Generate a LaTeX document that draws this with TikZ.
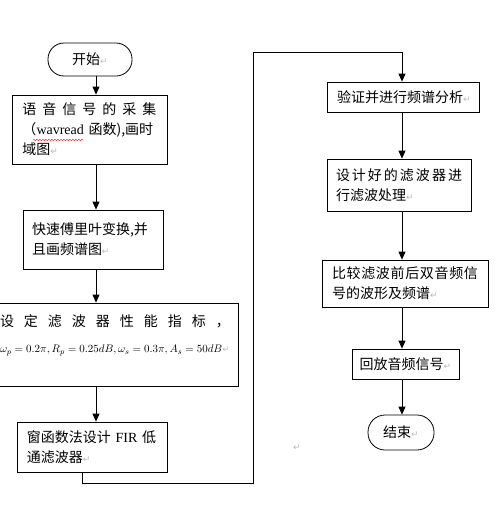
\documentclass[tikz,border=0pt]{standalone}
\usepackage{fontspec}
\setmainfont{Noto Sans CJK SC}
\newfontfamily\lat{Liberation Serif}
\newfontfamily\retfont{DejaVu Sans}
\usetikzlibrary{arrows.meta,decorations.pathmorphing}

\newcommand{\ret}{{\retfont\color{gray!55}\fontsize{9}{9}\selectfont ↵}}

\begin{document}
\begin{tikzpicture}[x=1pt,y=-1pt,
    every node/.style={font=\fontsize{14}{20}\selectfont},
    proc/.style={draw, rectangle, line width=0.8pt, inner sep=0pt, align=left},
    term/.style={draw, rectangle, line width=0.8pt, inner sep=0pt},
    flow/.style={line width=0.8pt, -{Triangle[length=8pt,width=7pt]}}]
    \clip (0,0) rectangle (501,517);

    % Left column
    \node[term, rounded corners=16pt, minimum width=84pt, minimum height=33pt] (start) at (90,59.5) {开始\ret};
    \node[proc, minimum width=155pt, minimum height=69pt, text width=134pt] (sample) at (89.5,129.5)
        {\makebox[134pt][s]{语\hfill 音\hfill 信\hfill 号\hfill 的\hfill 采\hfill 集}\\（{\lat wavread} 函数),画时\\域图\ret};
    \node[proc, minimum width=140pt, minimum height=59pt, text width=122pt] (fft) at (93,239.5)
        {快速傅里叶变换,并\\且画频谱图\ret};
    \node[proc, minimum width=246pt, minimum height=83pt, text width=230pt] (spec) at (115,344.5)
        {\makebox[230pt][s]{设\hfill 定\hfill 滤\hfill 波\hfill 器\hfill 性\hfill 能\hfill 指\hfill 标\hfill ，}\\[6pt]
         \mbox{\fontsize{11}{14}\selectfont $\omega_p=0.2\pi, R_p=0.25dB, \omega_s=0.3\pi, A_s=50dB$\ret}\\[2pt]\mbox{}};
    \node[proc, minimum width=150pt, minimum height=50pt, text width=130pt] (fir) at (92,447)
        {窗函数法设计 {\lat FIR} 低\\通滤波器\ret};

    % Right column
    \node[proc, minimum width=152pt, minimum height=30pt, text width=132pt] (verify) at (403,97)
        {验证并进行频谱分析\ret};
    \node[proc, minimum width=144pt, minimum height=52pt, text width=126pt] (filt) at (399,185)
        {\makebox[126pt][s]{设\hfill 计\hfill 好\hfill 的\hfill 滤\hfill 波\hfill 器\hfill 进}\\行滤波处理\ret};
    \node[proc, minimum width=166pt, minimum height=47pt, text width=146pt] (cmp) at (405,283.5)
        {\makebox[146pt][s]{比\hfill 较\hfill 滤\hfill 波\hfill 前\hfill 后\hfill 双\hfill 音\hfill 频\hfill 信}\\号的波形及频谱\ret};
    \node[proc, minimum width=107pt, minimum height=30pt] (play) at (405.5,364) {回放音频信号\ret};
    \node[term, rounded corners=17pt, minimum width=66pt, minimum height=35pt] (stop) at (401,432.5) {结束\ret};

    % Stray paragraph mark
    \node (para) at (297,448) {\ret};

    % Spelling mark under wavread
    \draw[red, decorate, decoration={snake, amplitude=0.7pt, segment length=3pt}] (33,140) -- (83,140);

    % Connectors
    \coordinate (colL) at (96,0);
    \coordinate (colR) at (402,0);
    \coordinate (loopA) at (82,483);
    \coordinate (loopB) at (253,52);
    \draw[flow] (start.south -| colL) -- (sample.north -| colL);
    \draw[flow] (sample.south -| colL) -- (fft.north -| colL);
    \draw[flow] (fft.south -| colL) -- (spec.north -| colL);
    \draw[flow] (spec.south -| colL) -- (fir.north -| colL);
    \draw[flow] (fir.south -| loopA) -- (loopA) -| (loopB) -- (loopB -| colR) -- (verify.north -| colR);
    \draw[flow] (verify.south -| colR) -- (filt.north -| colR);
    \draw[flow] (filt.south -| colR) -- (cmp.north -| colR);
    \draw[flow] (cmp.south -| colR) -- (play.north -| colR);
    \draw[flow] (play.south -| colR) -- (stop.north -| colR);

\end{tikzpicture}
\end{document}
